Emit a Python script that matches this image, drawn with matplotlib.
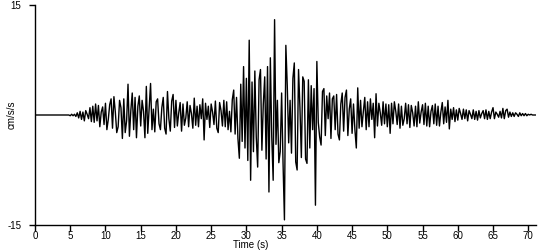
import matplotlib.pyplot as plt
import numpy as np

dt = 0.2

# acceleration (cm/s/s), 5 samples per second, grouped by 10 s windows
acc_00_10 = [
    0.0, 0.0, 0.0, 0.0, 0.0,
    0.0, 0.0, 0.0, 0.0, 0.0,
    0.0, 0.0, 0.0, 0.0, 0.0,
    0.0, 0.0, 0.0, 0.0, 0.0,
    0.0, 0.0, 0.0, 0.0, 0.0,
    -0.1, 0.1, -0.1, 0.1, -0.2,
    0.3, -0.4, 0.5, -0.6, 0.4,
    -0.8, 0.6, 0.1, -0.5, 1.0,
    -0.9, 1.2, -1.0, 1.5, -0.8,
    1.3, -1.6, 0.4, 1.1, -1.3,
]
acc_10_20 = [
    1.6, -2.0, -0.6, 1.4, 2.2,
    -1.8, 2.5, 0.4, -2.4, -1.6,
    2.0, 1.0, -3.2, 2.2, -2.4,
    -0.8, 4.2, -2.9, 0.6, 3.0,
    -2.0, 2.4, -3.1, 1.2, 2.6,
    -1.5, 2.0, 0.5, -3.1, 3.9,
    -2.5, 1.0, 4.3, -2.0, 0.8,
    -2.3, 1.8, 2.2, -1.2, -2.0,
    1.0, 2.4, -1.8, -2.6, 3.2,
    -0.5, -2.2, 1.9, 2.8, -1.7,
]
acc_20_30 = [
    2.0, -1.5, 0.3, 1.7, -2.2,
    1.5, -1.4, -0.4, 1.8, -1.6,
    1.3, 0.2, -1.8, 2.3, -1.4,
    1.2, -1.6, 1.4, -0.5, 2.2,
    -3.4, 1.6, -0.6, 1.2, -1.7,
    1.5, 0.4, -1.3, 1.9, -1.8,
    -2.4, 1.7, 0.6, -1.5, 2.0,
    -1.6, 1.8, -2.0, 0.5, -2.3,
    2.1, 3.4, -2.6, 2.4, -3.2,
    -5.9, 4.2, -3.6, 6.6, -4.5,
]
acc_30_40 = [
    5.0, -6.2, 10.2, -8.9, 4.5,
    -5.0, 6.0, -3.0, -7.1, 4.8,
    6.2, -4.8, 1.5, 5.2, -6.0,
    6.6, -10.5, 7.8, -3.0, -8.9,
    13.0, -4.0, 2.0, -6.5, -5.0,
    3.0, -6.5, -14.3, 9.5, 4.0,
    -3.8, 2.0, -5.2, 5.0, 7.1,
    -6.4, -7.5, 6.2, 1.0, -5.8,
    5.2, 4.6, -6.0, -6.6, 4.8,
    -4.5, 4.0, -2.0, 3.6, -12.3,
]
acc_40_50 = [
    7.3, -1.0, -3.0, -4.1, 3.2,
    3.6, -2.8, 2.6, -0.5, 3.0,
    -3.2, 2.2, 2.6, -2.0, 2.8,
    -2.6, -3.4, 1.5, 3.0, -2.2,
    2.4, 3.4, -2.8, 0.8, 2.2,
    -2.5, 1.5, -2.0, -4.5, 3.7,
    -1.8, 2.0, -1.6, 0.5, 2.4,
    -2.0, 1.8, -1.6, 2.2, -0.6,
    1.6, -3.1, 2.9, -1.5, 1.6,
    0.3, -1.4, 1.8, -1.2, 1.5,
]
acc_50_60 = [
    -1.6, 1.4, -2.5, 1.6, -1.2,
    1.8, 0.5, -1.3, 1.5, -1.8,
    1.2, -1.4, -0.5, 1.6, -1.2,
    1.4, -1.7, 1.3, 0.3, -1.5,
    1.2, -1.6, 1.8, -1.1, 0.4,
    1.4, -1.3, 1.6, -1.5, 1.2,
    -1.6, 0.5, 1.3, -1.2, 1.5,
    -1.4, 1.2, -1.5, 0.4, 1.7,
    -1.2, 1.1, -1.0, 2.0, -1.9,
    0.8, -0.6, 1.0, -0.9, 0.7,
]
acc_60_71 = [
    -0.7, 0.9, 0.2, -0.6, 0.8,
    -0.5, 0.7, -0.8, 0.6, 0.1,
    -0.5, 0.7, -0.6, 0.5, -0.7,
    0.6, -0.4, 0.2, 0.6, -0.5,
    0.7, -0.6, 0.5, -0.5, 0.4,
    1.0, -0.5, 0.4, 0.1, -0.3,
    0.5, -0.4, 0.9, -0.5, 0.6,
    0.8, -0.3, 0.4, -0.2, 0.3,
    -0.2, 0.3, 0.1, -0.2, 0.3,
    -0.1, 0.2, -0.1, 0.2, -0.1,
    0.1, 0.0, 0.1, 0.0, 0.0,
    0.0,
]

xticks = [0, 5, 10, 15, 20, 25, 30, 35, 40, 45, 50, 55, 60, 65, 70]
yticks = [-15, 15]

acc = np.array(acc_00_10 + acc_10_20 + acc_20_30 + acc_30_40
               + acc_40_50 + acc_50_60 + acc_60_71)
t = np.arange(len(acc)) * dt

plt.rcParams['font.family'] = ['Liberation Sans', 'DejaVu Sans']
plt.rcParams['font.size'] = 7

fig = plt.figure(figsize=(5.5, 2.5), dpi=100)
ax = fig.add_axes([35 / 550, 25 / 250, 501 / 550, 220 / 250])

ax.plot(t, acc, color='black', linewidth=1.0)

ax.set_xlim(0, 71.1)
ax.set_ylim(-15, 15)
ax.set_xticks(xticks)
ax.set_yticks(yticks)
ax.set_yticklabels(['-15', '15'])

for spine in ['top', 'right']:
    ax.spines[spine].set_visible(False)
for spine in ['left', 'bottom']:
    ax.spines[spine].set_linewidth(1)

ax.tick_params(axis='x', direction='out', length=4, width=1, pad=0.5)
ax.tick_params(axis='y', direction='out', length=4, width=1, pad=6)

fig.text(251 / 550, 0, 'Time (s)', ha='center', va='bottom')
fig.text(12 / 550, 135 / 250, 'cm/s/s', rotation=90, ha='center', va='center')

plt.savefig('out.png', dpi=100)
